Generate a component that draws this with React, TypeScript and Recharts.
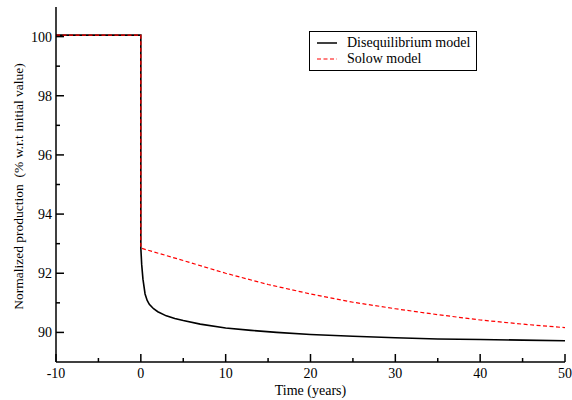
import { Legend, Line, LineChart, XAxis, YAxis } from "recharts";

const diseqT = [-10, 0, 0, 0.1, 0.25, 0.5, 0.75, 1, 1.5, 2, 3, 4, 5, 7, 10, 13, 16, 20, 25, 30, 35, 40, 45, 50];
const diseqY = [100.05, 100.05, 92.85, 92.3, 91.8, 91.3, 91.08, 90.95, 90.8, 90.7, 90.56, 90.47, 90.4, 90.28, 90.15, 90.07, 90.0, 89.93, 89.87, 89.82, 89.78, 89.76, 89.74, 89.72];

const solowT = [-10, 0, 0, 5, 10, 15, 20, 25, 30, 35, 40, 45, 50];
const solowY = [100.05, 100.05, 92.85, 92.43, 92.0, 91.62, 91.3, 91.02, 90.8, 90.6, 90.42, 90.28, 90.16];

const xTicks = [-10, -5, 0, 5, 10, 15, 20, 25, 30, 35, 40, 45, 50];
const yTicks = [90, 91, 92, 93, 94, 95, 96, 97, 98, 99, 100];

const FONT = "'Liberation Serif', 'Times New Roman', serif";

const diseqData = diseqT.map((t, i) => ({ t, v: diseqY[i] }));
const solowData = solowT.map((t, i) => ({ t, v: solowY[i] }));

const BottomTick = (props: any) => {
  const { x, y, payload } = props;
  const major = payload.value % 10 === 0;
  return (
    <g>
      <line x1={x} x2={x} y1={y} y2={y - (major ? 8 : 4)} stroke="#000" strokeWidth={1.5} />
      {major && (
        <text x={x} y={y + 16} textAnchor="middle" fontFamily={FONT} fontSize={14} fill="#000">
          {payload.value}
        </text>
      )}
    </g>
  );
};

const TopTick = (props: any) => {
  const { x, y, payload } = props;
  const major = payload.value % 10 === 0;
  return <line x1={x} x2={x} y1={y} y2={y + (major ? 8 : 4)} stroke="#000" strokeWidth={1.5} />;
};

const LeftTick = (props: any) => {
  const { x, y, payload } = props;
  const major = payload.value % 2 === 0;
  return (
    <g>
      <line x1={x} x2={x + (major ? 8 : 4)} y1={y} y2={y} stroke="#000" strokeWidth={1.5} />
      {major && (
        <text x={x - 4} y={y + 5} textAnchor="end" fontFamily={FONT} fontSize={14} fill="#000">
          {payload.value}
        </text>
      )}
    </g>
  );
};

const RightTick = (props: any) => {
  const { x, y, payload } = props;
  const major = payload.value % 2 === 0;
  return <line x1={x} x2={x - (major ? 8 : 4)} y1={y} y2={y} stroke="#000" strokeWidth={1.5} />;
};

const YLabel = (props: any) => {
  const vb = props.viewBox;
  const cx = vb.x + 18;
  const cy = vb.y + vb.height / 2 + 2;
  return (
    <text
      x={cx}
      y={cy}
      transform={`rotate(-90, ${cx}, ${cy})`}
      textAnchor="middle"
      dominantBaseline="central"
      fontFamily={FONT}
      fontSize={13.5}
      fill="#000"
      style={{ whiteSpace: "pre" }}
    >
      {"Normalized production  (% w.r.t initial value)"}
    </text>
  );
};

const renderLegend = () => (
  <div
    style={{
      boxSizing: "border-box",
      width: 168,
      height: 40,
      border: "1px solid #000",
      background: "#fff",
      fontFamily: FONT,
      fontSize: 14,
      padding: "3px 0 0 7px",
      lineHeight: "16px",
    }}
  >
    <div style={{ display: "flex", alignItems: "center" }}>
      <svg width={20} height={16}>
        <line x1={0} x2={20} y1={8} y2={8} stroke="#000" strokeWidth={1.5} />
      </svg>
      <span style={{ marginLeft: 10 }}>Disequilibrium model</span>
    </div>
    <div style={{ display: "flex", alignItems: "center" }}>
      <svg width={20} height={16}>
        <line x1={0} x2={20} y1={8} y2={8} stroke="#ff0000" strokeWidth={1.2} strokeDasharray="4 2.5" />
      </svg>
      <span style={{ marginLeft: 10 }}>Solow model</span>
    </div>
  </div>
);

export default function App() {
  return (
    <div style={{ position: "absolute", left: 0, top: 0, background: "#fff" }}>
      <LineChart width={572} height={400} margin={{ top: 7, right: 7, bottom: 0, left: 0 }}>
        <XAxis
          xAxisId="b"
          dataKey="t"
          type="number"
          domain={[-10, 50]}
          ticks={xTicks}
          interval={0}
          height={38}
          tickSize={0}
          tickMargin={0}
          tickLine={false}
          tick={<BottomTick />}
          axisLine={{ stroke: "#000", strokeWidth: 1.5 }}
          allowDataOverflow
          label={{ value: "Time (years)", position: "insideBottom", offset: 5, fontFamily: FONT, fontSize: 14, fill: "#000" }}
        />
        <XAxis
          xAxisId="t"
          orientation="top"
          dataKey="t"
          type="number"
          domain={[-10, 50]}
          ticks={xTicks}
          interval={0}
          height={0}
          tickSize={0}
          tickMargin={0}
          tickLine={false}
          tick={<TopTick />}
          axisLine={{ stroke: "#000", strokeWidth: 1.5 }}
          allowDataOverflow
        />
        <YAxis
          yAxisId="l"
          type="number"
          domain={[89, 101]}
          ticks={yTicks}
          interval={0}
          width={56}
          tickSize={0}
          tickMargin={0}
          tickLine={false}
          tick={<LeftTick />}
          axisLine={{ stroke: "#000", strokeWidth: 1.5 }}
          allowDataOverflow
          label={{ content: <YLabel /> }}
        />
        <YAxis
          yAxisId="r"
          orientation="right"
          type="number"
          domain={[89, 101]}
          ticks={yTicks}
          interval={0}
          width={0}
          tickSize={0}
          tickMargin={0}
          tickLine={false}
          tick={<RightTick />}
          axisLine={{ stroke: "#000", strokeWidth: 1.5 }}
          allowDataOverflow
        />
        <Legend
          layout="vertical"
          align="center"
          verticalAlign="middle"
          content={renderLegend}
          wrapperStyle={{ left: 309, top: 31, width: 168, height: 40 }}
        />
        <Line
          xAxisId="b"
          yAxisId="l"
          data={diseqData}
          dataKey="v"
          type="linear"
          stroke="#000"
          strokeWidth={1.6}
          dot={false}
          isAnimationActive={false}
          name="Disequilibrium model"
        />
        <Line
          xAxisId="b"
          yAxisId="l"
          data={solowData}
          dataKey="v"
          type="linear"
          stroke="#ff0000"
          strokeWidth={1.2}
          strokeDasharray="4 2.5"
          dot={false}
          isAnimationActive={false}
          name="Solow model"
        />
      </LineChart>
    </div>
  );
}
